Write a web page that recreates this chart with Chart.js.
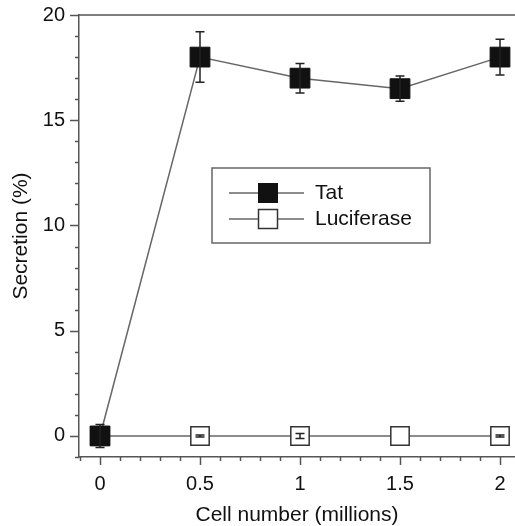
<!DOCTYPE html>
<html>
<head>
<meta charset="utf-8">
<script src="https://cdn.jsdelivr.net/npm/chart.js@4/dist/chart.umd.min.js"></script>
<style>
  html, body { margin: 0; padding: 0; background: #fff; }
  #wrap { width: 515px; height: 526px; position: relative; }
</style>
</head>
<body>
<div id="wrap"><canvas id="chart" width="515" height="526"></canvas></div>
<script>
// Cell number (millions) on the x axis
const cellNumbers = [0, 0.5, 1, 1.5, 2];
// Secretion (%) for each construct, with error bar half-widths
const tatSecretion = [0, 18, 17, 16.5, 18];
const tatError = [0.55, 1.2, 0.7, 0.6, 0.85];
const lucSecretion = [0, 0, 0, 0, 0];
const lucError = [0, 0.05, 0.12, 0, 0.05];
const seriesNames = ['Tat', 'Luciferase'];
// Axis ticks
const xTicks = [0, 0.5, 1, 1.5, 2];
const xTickLabels = ['0', '0.5', '1', '1.5', '2'];
const yTicks = [0, 5, 10, 15, 20];
const yTickLabels = ['0', '5', '10', '15', '20'];
const xMinorStep = 0.1;
const yMinorStep = 1;

const FONT = "'Liberation Sans', Arial, Helvetica, sans-serif";
const AXIS_COLOR = '#555';
const LINE_COLOR = '#666';
const MARK_COLOR = '#222';

function toPoints(xs, ys) { return xs.map((x, i) => ({ x: x, y: ys[i] })); }

// Error bars, minor/major tick marks, frame top and the inset legend
const decorations = {
  id: 'decorations',
  afterDatasetsDraw(chart) {
    const ctx = chart.ctx;
    const xs = chart.scales.x, ys = chart.scales.y;
    const errs = [tatError, lucError];
    ctx.save();
    ctx.strokeStyle = MARK_COLOR;
    ctx.lineWidth = 1.5;
    chart.data.datasets.forEach((ds, di) => {
      ds.data.forEach((p, i) => {
        const e = errs[di][i];
        if (!e) return;
        const px = xs.getPixelForValue(p.x);
        const top = ys.getPixelForValue(p.y + e);
        const bot = ys.getPixelForValue(p.y - e);
        ctx.beginPath();
        ctx.moveTo(px, top); ctx.lineTo(px, bot);
        ctx.moveTo(px - 4.5, top); ctx.lineTo(px + 4.5, top);
        ctx.moveTo(px - 4.5, bot); ctx.lineTo(px + 4.5, bot);
        ctx.stroke();
      });
    });
    ctx.restore();
  },
  afterDraw(chart) {
    const ctx = chart.ctx;
    const xs = chart.scales.x, ys = chart.scales.y;
    const area = chart.chartArea;
    ctx.save();
    ctx.strokeStyle = AXIS_COLOR;
    ctx.lineWidth = 1.5;
    // top frame line
    ctx.beginPath();
    ctx.moveTo(area.left, area.top); ctx.lineTo(area.right, area.top);
    ctx.stroke();
    // x ticks (outward, below the axis)
    ctx.beginPath();
    for (let k = Math.ceil(xs.min / xMinorStep - 1e-6); k * xMinorStep <= xs.max + 1e-9; k++) {
      const v = +(k * xMinorStep).toFixed(6);
      const px = Math.round(xs.getPixelForValue(v)) + 0.5;
      const major = xTicks.some(t => Math.abs(t - v) < 1e-6);
      ctx.moveTo(px, area.bottom);
      ctx.lineTo(px, area.bottom + (major ? 8 : 4));
    }
    // y ticks (outward, left of the axis)
    for (let k = Math.ceil(ys.min / yMinorStep); k * yMinorStep <= ys.max; k++) {
      const v = k * yMinorStep;
      const py = Math.round(ys.getPixelForValue(v)) + 0.5;
      const major = yTicks.includes(v);
      ctx.moveTo(area.left, py);
      ctx.lineTo(area.left - (major ? 9 : 4), py);
    }
    ctx.stroke();

    // inset legend
    const bx = area.left + 133, by = area.top + 153, bw = 218, bh = 75;
    ctx.fillStyle = '#fff';
    ctx.fillRect(bx, by, bw, bh);
    ctx.strokeStyle = '#666';
    ctx.lineWidth = 1.5;
    ctx.strokeRect(bx, by, bw, bh);
    chart.data.datasets.forEach((ds, i) => {
      const rowY = by + 25 + i * 26;
      ctx.strokeStyle = LINE_COLOR;
      ctx.lineWidth = 1.5;
      ctx.beginPath();
      ctx.moveTo(bx + 17, rowY); ctx.lineTo(bx + 92, rowY);
      ctx.stroke();
      const s = 19;
      ctx.fillStyle = ds.pointBackgroundColor;
      ctx.fillRect(bx + 56 - s / 2, rowY - s / 2, s, s);
      ctx.strokeStyle = ds.pointBorderColor;
      ctx.lineWidth = ds.pointBorderWidth;
      ctx.strokeRect(bx + 56 - s / 2, rowY - s / 2, s, s);
      ctx.fillStyle = '#111';
      ctx.font = '21px ' + FONT;
      ctx.textBaseline = 'middle';
      ctx.textAlign = 'left';
      ctx.fillText(seriesNames[i], bx + 103, rowY);
    });
    ctx.restore();
  }
};

new Chart(document.getElementById('chart'), {
  type: 'line',
  data: {
    datasets: [
      {
        label: seriesNames[0],
        data: toPoints(cellNumbers, tatSecretion),
        borderColor: LINE_COLOR,
        borderWidth: 1.5,
        pointStyle: 'rect',
        pointRadius: 14,
        pointBackgroundColor: '#111',
        pointBorderColor: '#111',
        pointBorderWidth: 1,
        tension: 0
      },
      {
        label: seriesNames[1],
        data: toPoints(cellNumbers, lucSecretion),
        borderColor: LINE_COLOR,
        borderWidth: 1.5,
        pointStyle: 'rect',
        pointRadius: 13,
        pointBackgroundColor: '#fff',
        pointBorderColor: '#333',
        pointBorderWidth: 1.5,
        tension: 0
      }
    ]
  },
  options: {
    responsive: false,
    animation: false,
    events: [],
    layout: { autoPadding: false, padding: { top: 15, right: 0, left: 0, bottom: 0 } },
    plugins: { legend: { display: false }, tooltip: { enabled: false } },
    scales: {
      x: {
        type: 'linear',
        min: -0.105,
        max: 2.075,
        afterBuildTicks: s => { s.ticks = xTicks.map(v => ({ value: v })); },
        afterFit: s => { s.height = 69; },
        grid: { display: true, drawOnChartArea: false, drawTicks: true, tickLength: 15, tickColor: 'rgba(0,0,0,0)' },
        border: { display: true, color: AXIS_COLOR, width: 1.5 },
        ticks: {
          padding: 0,
          color: '#111',
          font: { family: FONT, size: 20 },
          maxRotation: 0,
          autoSkip: false,
          callback: (v, i) => xTickLabels[i]
        },
        title: {
          display: true,
          text: 'Cell number (millions)',
          color: '#111',
          font: { family: FONT, size: 21, lineHeight: 1 },
          padding: { top: 0, bottom: 0 }
        }
      },
      y: {
        type: 'linear',
        min: -1,
        max: 20,
        afterBuildTicks: s => { s.ticks = yTicks.map(v => ({ value: v })); },
        afterFit: s => { s.width = 79; },
        grid: { display: true, drawOnChartArea: false, drawTicks: true, tickLength: 14, tickColor: 'rgba(0,0,0,0)' },
        border: { display: true, color: AXIS_COLOR, width: 1.5 },
        ticks: {
          padding: 0,
          color: '#111',
          font: { family: FONT, size: 20 },
          autoSkip: false,
          callback: (v, i) => yTickLabels[i]
        },
        title: {
          display: true,
          text: 'Secretion (%)',
          color: '#111',
          font: { family: FONT, size: 21, lineHeight: 1.2 },
          padding: { top: 9, bottom: 0 }
        }
      }
    }
  },
  plugins: [decorations]
});
</script>
</body>
</html>
